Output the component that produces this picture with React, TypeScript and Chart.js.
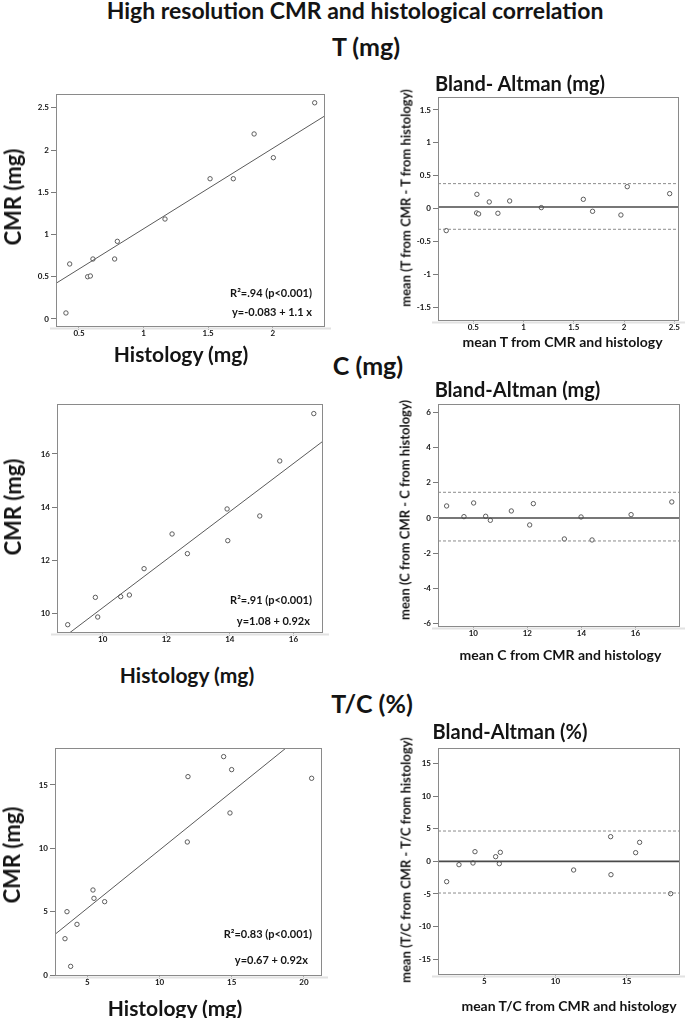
import React, { useEffect, useRef } from 'react';
import { Chart, registerables } from 'chart.js';

Chart.register(...registerables);

// ---------- DATA ----------
// T (mg) – scatter
const tHistology = [0.399, 0.428, 0.567, 0.588, 0.608, 0.776, 0.797, 1.166, 1.515, 1.695, 1.856, 2.005, 2.325];
const tCMR = [0.071, 0.651, 0.5, 0.509, 0.71, 0.71, 0.919, 1.183, 1.66, 1.66, 2.19, 1.909, 2.559];
const tFitX = [0.32, 2.41];
const tFitY = [0.42, 2.41];
const tScatterXTicks = [0.5, 1, 1.5, 2];
const tScatterYTicks = [0, 0.5, 1, 1.5, 2, 2.5];
// T (mg) – Bland-Altman
const tBAMean = [0.231, 0.536, 0.533, 0.553, 0.659, 0.745, 0.862, 1.177, 1.595, 1.687, 1.969, 2.032, 2.454];
const tBADiff = [-0.331, 0.22, -0.063, -0.078, 0.104, -0.068, 0.119, 0.018, 0.144, -0.038, -0.094, 0.336, 0.23];
const tBias = 0.028;
const tUpperLoA = 0.382;
const tLowerLoA = -0.311;
const tBAXTicks = [0.5, 1, 1.5, 2, 2.5];
const tBAYTicks = [-1.5, -1, -0.5, 0, 0.5, 1, 1.5];

// C (mg) – scatter
const cHistology = [8.899, 9.769, 9.843, 10.566, 10.839, 11.301, 12.182, 12.664, 13.913, 13.934, 14.941, 15.57, 16.64];
const cCMR = [9.573, 10.602, 9.862, 10.628, 10.69, 11.682, 12.987, 12.247, 13.929, 12.736, 13.665, 15.736, 17.519];
const cFitX = [8.95, 16.95];
const cFitY = [9.26, 16.5];
const cScatterXTicks = [10, 12, 14, 16];
const cScatterYTicks = [10, 12, 14, 16];
// C (mg) – Bland-Altman
const cBAMean = [9.012, 9.654, 10.012, 10.457, 10.63, 11.407, 12.086, 12.222, 13.37, 13.988, 14.395, 15.84, 17.346];
const cBADiff = [0.684, 0.076, 0.854, 0.095, -0.133, 0.399, -0.399, 0.816, -1.196, 0.057, -1.253, 0.19, 0.911];
const cBias = 0;
const cUpperLoA = 1.462;
const cLowerLoA = -1.31;
const cBAXTicks = [10, 12, 14, 16];
const cBAYTicks = [-6, -4, -2, 0, 2, 4, 6];

// T/C (%) – scatter
const tcHistology = [3.454, 3.592, 3.846, 4.285, 5.392, 5.462, 6.2, 11.924, 11.97, 14.439, 14.878, 14.993, 20.532];
const tcCMR = [2.889, 5.017, 0.709, 4.019, 6.725, 6.068, 5.805, 10.507, 15.655, 17.231, 12.792, 16.207, 15.524];
const tcFitX = [2.76, 18.76];
const tcFitY = [3.23, 17.91];
const tcScatterXTicks = [5, 10, 15, 20];
const tcScatterYTicks = [0, 5, 10, 15];
// T/C (%) – Bland-Altman
const tcBAMean = [2.354, 3.22, 4.204, 4.344, 5.796, 6.054, 6.124, 11.276, 13.876, 13.899, 15.633, 15.913, 18.091];
const tcBADiff = [-3.112, -0.51, -0.255, 1.48, 0.714, -0.357, 1.378, -1.327, 3.776, -2.041, 1.327, 2.908, -4.949];
const tcBias = 0;
const tcUpperLoA = 4.64;
const tcLowerLoA = -4.85;
const tcBAXTicks = [5, 10, 15];
const tcBAYTicks = [-15, -10, -5, 0, 5, 10, 15];

// ---------- STYLE ----------
const FONT = 'Lato, "Open Sans", sans-serif';
const TEXT = '#141414';
const AXIS_W = 40;
const AXIS_H = 20;
const PAD_T = 10;
const PAD_R = 10;

const boxPlugin = {
  id: 'boxFrame',
  afterDraw(chart: any) {
    const { ctx, chartArea: a } = chart;
    ctx.save();
    ctx.strokeStyle = '#e2e2e2';
    ctx.lineWidth = 2;
    ctx.beginPath();
    ctx.moveTo(a.left - 6, a.bottom + 1.5);
    ctx.lineTo(a.right + 6, a.bottom + 1.5);
    ctx.stroke();
    ctx.strokeStyle = '#8a8a8a';
    ctx.lineWidth = 1;
    ctx.strokeRect(a.left + 0.5, a.top + 0.5, a.right - a.left - 1, a.bottom - a.top - 1);
    ctx.restore();
  },
};

type PanelProps = {
  box: { l: number; t: number; r: number; b: number };
  xRange: [number, number];
  yRange: [number, number];
  xTicks: number[];
  yTicks: number[];
  px: number[];
  py: number[];
  fit?: { x: number[]; y: number[] };
  ba?: { bias: number; upper: number; lower: number };
};

function axis(range: [number, number], ticks: number[], horizontal: boolean) {
  return {
    type: 'linear',
    min: range[0],
    max: range[1],
    afterBuildTicks: (s: any) => {
      s.ticks = ticks.map((v) => ({ value: v }));
    },
    afterFit: (s: any) => {
      if (horizontal) {
        s.height = AXIS_H;
        s.paddingLeft = 0;
        s.paddingRight = 0;
      } else {
        s.width = AXIS_W;
        s.paddingTop = 0;
        s.paddingBottom = 0;
      }
    },
    border: { display: false },
    grid: {
      drawOnChartArea: false,
      drawTicks: true,
      tickLength: horizontal ? 3 : 5,
      color: '#7a7a7a',
      tickColor: '#7a7a7a',
    },
    ticks: {
      autoSkip: false,
      maxRotation: 0,
      padding: horizontal ? -1 : 2,
      color: TEXT,
      font: { family: FONT, weight: 'bold', size: 8 },
      callback: (v: any) => String(v),
    },
  };
}

function Panel(p: PanelProps) {
  const ref = useRef<HTMLCanvasElement>(null);
  const w = p.box.r - p.box.l + AXIS_W + PAD_R;
  const h = p.box.b - p.box.t + AXIS_H + PAD_T;
  useEffect(() => {
    const datasets: any[] = [];
    if (p.fit) {
      datasets.push({
        data: p.fit.x.map((x, i) => ({ x, y: p.fit!.y[i] })),
        showLine: true,
        pointRadius: 0,
        borderColor: '#5a5a5a',
        borderWidth: 1,
        clip: 0,
      });
    }
    if (p.ba) {
      const lines = [
        { v: p.ba.upper, dash: [3, 2], c: '#8c8c8c', wd: 1 },
        { v: p.ba.lower, dash: [3, 2], c: '#8c8c8c', wd: 1 },
        { v: p.ba.bias, dash: [], c: '#4a4a4a', wd: 1.6 },
      ];
      lines.forEach((ln) =>
        datasets.push({
          data: [
            { x: p.xRange[0], y: ln.v },
            { x: p.xRange[1], y: ln.v },
          ],
          showLine: true,
          pointRadius: 0,
          borderColor: ln.c,
          borderWidth: ln.wd,
          borderDash: ln.dash,
          clip: 0,
        })
      );
    }
    datasets.push({
      data: p.px.map((x, i) => ({ x, y: p.py[i] })),
      pointRadius: 2.2,
      pointBorderWidth: 0.9,
      pointBorderColor: '#4d4d4d',
      pointBackgroundColor: '#ffffff',
      showLine: false,
    });
    const chart = new Chart(ref.current!, {
      type: 'scatter',
      data: { datasets },
      options: {
        responsive: false,
        animation: false,
        events: [],
        layout: { padding: { left: 0, top: PAD_T, right: PAD_R, bottom: 0 } },
        plugins: { legend: { display: false }, tooltip: { enabled: false }, title: { display: false } },
        scales: {
          x: axis(p.xRange, p.xTicks, true),
          y: axis(p.yRange, p.yTicks, false),
        },
      } as any,
      plugins: [boxPlugin],
    });
    return () => chart.destroy();
  }, []);
  return (
    <canvas
      ref={ref}
      width={w}
      height={h}
      style={{ position: 'absolute', left: p.box.l - AXIS_W, top: p.box.t - PAD_T, width: w, height: h }}
    />
  );
}

function Txt(props: { x: number; y: number; size: number; rot?: boolean; right?: boolean; children: any }) {
  const tr = props.right
    ? 'translate(-100%, -50%)'
    : props.rot
    ? 'translate(-50%, -50%) rotate(-90deg)'
    : 'translate(-50%, -50%)';
  return (
    <div
      style={{
        position: 'absolute',
        left: props.x,
        top: props.y,
        transform: tr,
        whiteSpace: 'nowrap',
        fontSize: props.size,
        lineHeight: 1,
        fontWeight: 700,
        fontFamily: FONT,
        color: TEXT,
      }}
    >
      {props.children}
    </div>
  );
}

export default function App() {
  return (
    <div
      style={{
        position: 'absolute',
        left: 0,
        top: 0,
        width: 685,
        height: 1018,
        background: '#ffffff',
        overflow: 'hidden',
        fontFamily: FONT,
      }}
    >
      <Txt x={355} y={10} size={23}>High resolution CMR and histological correlation</Txt>
      <Txt x={366} y={45.5} size={25}>T (mg)</Txt>
      <Txt x={368} y={365} size={25}>C (mg)</Txt>
      <Txt x={372} y={702.5} size={25}>T/C (%)</Txt>

      {/* Row 1 */}
      <Panel
        box={{ l: 56, t: 94, r: 325, b: 327 }}
        xRange={[0.322, 2.405]}
        yRange={[-0.095, 2.663]}
        xTicks={tScatterXTicks}
        yTicks={tScatterYTicks}
        px={tHistology}
        py={tCMR}
        fit={{ x: tFitX, y: tFitY }}
      />
      <Panel
        box={{ l: 438, t: 97, r: 679, b: 321 }}
        xRange={[0.149, 2.547]}
        yRange={[-1.703, 1.697]}
        xTicks={tBAXTicks}
        yTicks={tBAYTicks}
        px={tBAMean}
        py={tBADiff}
        ba={{ bias: tBias, upper: tUpperLoA, lower: tLowerLoA }}
      />
      <Txt x={13} y={197} size={22} rot>CMR (mg)</Txt>
      <Txt x={181} y={353} size={21}>Histology (mg)</Txt>
      <Txt x={312} y={292.3} size={11} right>R²=.94 (p&lt;0.001)</Txt>
      <Txt x={312} y={310.7} size={11} right>y=-0.083 + 1.1 x</Txt>
      <Txt x={520} y={83} size={20}>Bland- Altman (mg)</Txt>
      <Txt x={405.5} y={197.5} size={13} rot>mean (T from CMR - T from histology)</Txt>
      <Txt x={562.5} y={342} size={14}>mean T from CMR and histology</Txt>

      {/* Row 2 */}
      <Panel
        box={{ l: 57, t: 404, r: 323, b: 633 }}
        xRange={[8.562, 16.93]}
        yRange={[9.26, 17.88]}
        xTicks={cScatterXTicks}
        yTicks={cScatterYTicks}
        px={cHistology}
        py={cCMR}
        fit={{ x: cFitX, y: cFitY }}
      />
      <Panel
        box={{ l: 438, t: 404, r: 680, b: 627 }}
        xRange={[8.693, 17.65]}
        yRange={[-6.21, 6.49]}
        xTicks={cBAXTicks}
        yTicks={cBAYTicks}
        px={cBAMean}
        py={cBADiff}
        ba={{ bias: cBias, upper: cUpperLoA, lower: cLowerLoA }}
      />
      <Txt x={13} y={507} size={22} rot>CMR (mg)</Txt>
      <Txt x={187} y={674} size={21}>Histology (mg)</Txt>
      <Txt x={312} y={599.3} size={11} right>R²=.91 (p&lt;0.001)</Txt>
      <Txt x={310} y={620} size={11} right>y=1.08 + 0.92x</Txt>
      <Txt x={517.5} y={389} size={20}>Bland-Altman (mg)</Txt>
      <Txt x={405} y={510} size={13} rot>mean (C from CMR - C from histology)</Txt>
      <Txt x={560.5} y={655} size={14}>mean C from CMR and histology</Txt>

      {/* Row 3 */}
      <Panel
        box={{ l: 55, t: 748, r: 322, b: 976 }}
        xRange={[2.763, 21.25]}
        yRange={[-0.05, 17.91]}
        xTicks={tcScatterXTicks}
        yTicks={tcScatterYTicks}
        px={tcHistology}
        py={tcCMR}
        fit={{ x: tcFitX, y: tcFitY }}
      />
      <Panel
        box={{ l: 438, t: 748, r: 680, b: 975 }}
        xRange={[1.746, 18.75]}
        yRange={[-17.4, 17.35]}
        xTicks={tcBAXTicks}
        yTicks={tcBAYTicks}
        px={tcBAMean}
        py={tcBADiff}
        ba={{ bias: tcBias, upper: tcUpperLoA, lower: tcLowerLoA }}
      />
      <Txt x={12} y={855} size={22} rot>CMR (mg)</Txt>
      <Txt x={175} y={1007} size={21}>Histology (mg)</Txt>
      <Txt x={312} y={933.3} size={11} right>R²=0.83 (p&lt;0.001)</Txt>
      <Txt x={308} y={959} size={11} right>y=0.67 + 0.92x</Txt>
      <Txt x={510} y={731} size={20}>Bland-Altman (%)</Txt>
      <Txt x={406} y={860} size={13} rot>mean (T/C from CMR - T/C from histology)</Txt>
      <Txt x={569} y={1006} size={14}>mean T/C from CMR and histology</Txt>
    </div>
  );
}
